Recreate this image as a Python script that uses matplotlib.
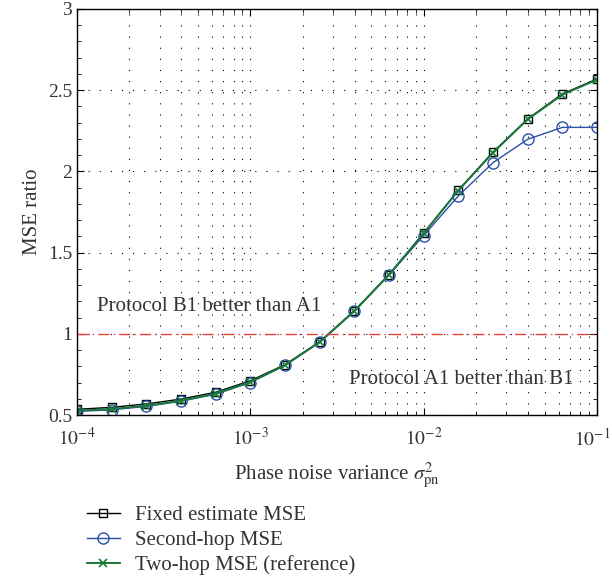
import numpy as np
import matplotlib.pyplot as plt
import matplotlib.transforms as mtransforms
from matplotlib.ticker import MultipleLocator, LogLocator, NullFormatter

# phase noise variance points (0.2 decade steps)
variance = [1e-4, 1.585e-4, 2.512e-4, 3.981e-4, 6.310e-4,
            1e-3, 1.585e-3, 2.512e-3, 3.981e-3, 6.310e-3,
            1e-2, 1.585e-2, 2.512e-2, 3.981e-2, 6.310e-2, 1e-1]

fixed_mse = [0.535, 0.547, 0.568, 0.598, 0.640, 0.711, 0.810, 0.951, 1.142, 1.365,
             1.620, 1.885, 2.119, 2.323, 2.477, 2.569]
second_hop = [0.522, 0.532, 0.553, 0.585, 0.628, 0.700, 0.805, 0.948, 1.138, 1.362,
              1.605, 1.849, 2.054, 2.198, 2.271, 2.271]
two_hop = [0.527, 0.537, 0.557, 0.588, 0.632, 0.703, 0.807, 0.949, 1.140, 1.364,
           1.618, 1.882, 2.115, 2.320, 2.472, 2.565]

x_ticks = [1e-4, 1e-3, 1e-2, 1e-1]
x_ticklabels = [r'$10^{-4}$', r'$10^{-3}$', r'$10^{-2}$', r'$10^{-1}$']

plt.rcParams['font.family'] = ['Liberation Serif', 'DejaVu Serif']
plt.rcParams['mathtext.fontset'] = 'stix'
txt_col = '#333333'

fig = plt.figure(figsize=(6.12, 5.79), dpi=100)
ax = fig.add_axes([77/612, 1 - 415/579, 520/612, 406/579])

ax.plot(variance, fixed_mse, '-s', color='black', lw=1.0, ms=6, mfc='none', mew=1.0,
        label='Fixed estimate MSE')
ax.plot(variance, second_hop, '-o', color='#2a4fa8', lw=1.0, ms=8, mfc='none', mew=1.0,
        label='Second-hop MSE')
ax.plot(variance, two_hop, '-x', color='#1a7a3a', lw=1.4, ms=5.5, mew=1.2,
        label='Two-hop MSE (reference)')

ax.axhline(1.0, color='#e8403a', lw=1.0, ls=(0, (8, 3, 1, 3)))

ax.set_xscale('log')
ax.set_xlim(1e-4, 1e-1)
ax.set_ylim(0.5, 3)
ax.set_xticks(x_ticks)
ax.set_xticklabels(x_ticklabels)
ax.yaxis.set_major_locator(MultipleLocator(0.5))
ax.yaxis.set_minor_locator(MultipleLocator(0.1))
ax.xaxis.set_minor_locator(LogLocator(base=10, subs=np.arange(2, 10)))
ax.xaxis.set_minor_formatter(NullFormatter())
ax.yaxis.set_major_formatter(plt.FuncFormatter(lambda v, p: ('%g' % v)))

ax.grid(True, which='major', axis='both', color='black', lw=0.8, ls=(0, (1, 9)))
ax.grid(True, which='minor', axis='x', color='black', lw=0.8, ls=(0, (1, 9)))

ax.tick_params(which='both', direction='in', top=True, right=True, labelsize=14,
               labelcolor=txt_col)
ax.tick_params(axis='x', which='major', pad=9)
ax.tick_params(which='major', length=5)
ax.tick_params(which='minor', length=3)
for s in ax.spines.values():
    s.set_linewidth(1.0)

# nudge last x label so it stays inside the figure
last = ax.get_xticklabels()[-1]
last.set_transform(last.get_transform() + mtransforms.ScaledTranslation(-0.05, 0, fig.dpi_scale_trans))

ax.text(1.3e-4, 1.17, 'Protocol B1 better than A1', fontsize=15, color=txt_col, va='center')
ax.text(3.7e-3, 0.72, 'Protocol A1 better than B1', fontsize=15, color=txt_col, va='center')

ax.set_ylabel('MSE ratio', fontsize=15, color=txt_col)
ax.set_xlabel(r'Phase noise variance $\sigma^2_{\mathrm{pn}}$', fontsize=15,
              color=txt_col, labelpad=8)

handles, labels = ax.get_legend_handles_labels()
fig.legend(handles, labels, loc='upper left', bbox_to_anchor=(68/612, 1 - 487/579),
           frameon=False, fontsize=15, handlelength=1.6, handletextpad=0.7,
           labelspacing=0.25, labelcolor=txt_col)

fig.savefig('out.png', dpi=100)
